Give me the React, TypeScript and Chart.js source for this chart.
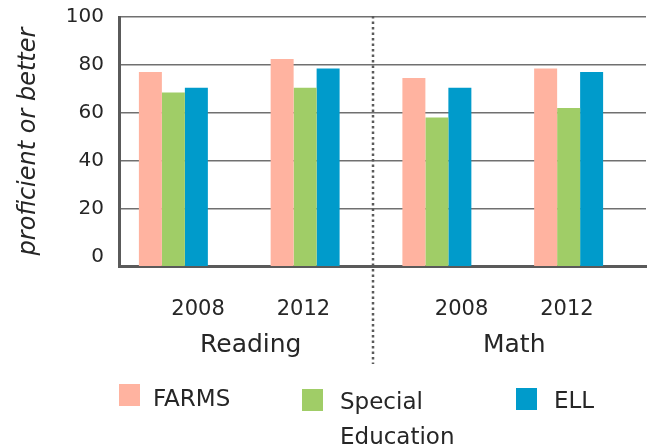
import React, { useEffect, useRef } from "react";
import { Chart, registerables } from "chart.js";

Chart.register(...registerables);

const categories = ["Reading 2008", "Reading 2012", "Math 2008", "Math 2012"];
const farms = [77, 82.5, 74.5, 78.5];
const specialEducation = [68.5, 70.5, 58, 62];
const ell = [70.5, 78.5, 70.5, 77];
const emptySeries = [null, null, null, null];
const yearLabels = ["", "2008", "", "2012", "", "", "2008", "", "2012", ""];
const subjectLabels = ["Reading", "Math"];
const yTicks = [0, 20, 40, 60, 80, 100];
const seriesNames = ["FARMS", "Special Education", "ELL"];
const seriesColors = ["#FFB3A0", "#A0CD67", "#009BCB"];
const yAxisTitle = "proficient or better";

const FONT = "'DejaVu Sans', sans-serif";
const TEXT = "#262626";
const AXIS = "#5a5a5a";

const dividerPlugin = {
  id: "divider",
  afterDraw(chart: any) {
    const a = chart.getDatasetMeta(2).data[1];
    const b = chart.getDatasetMeta(0).data[2];
    if (!a || !b) return;
    const x = ((a.x + a.width / 2) + (b.x - b.width / 2)) / 2 + 2;
    const top = chart.chartArea.top - 1;
    const bottom = chart.scales.x3.bottom + 2;
    const ctx = chart.ctx;
    ctx.save();
    ctx.strokeStyle = AXIS;
    ctx.lineWidth = 2.5;
    ctx.setLineDash([2.5, 3]);
    ctx.beginPath();
    ctx.moveTo(x, top);
    ctx.lineTo(x, bottom);
    ctx.stroke();
    ctx.restore();
  },
};

function App() {
  const ref = useRef<HTMLCanvasElement | null>(null);

  useEffect(() => {
    if (!ref.current) return;
    const base = -4;
    const chart = new Chart(ref.current, {
      type: "bar",
      data: {
        labels: categories,
        datasets: [
          { label: seriesNames[0], data: farms, backgroundColor: seriesColors[0], base },
          { label: seriesNames[1], data: specialEducation, backgroundColor: seriesColors[1], base },
          { label: seriesNames[2], data: ell, backgroundColor: seriesColors[2], base },
          { label: "", data: emptySeries, backgroundColor: "transparent", base },
        ],
      },
      options: {
        animation: false,
        responsive: false,
        maintainAspectRatio: false,
        events: [],
        layout: { autoPadding: false, padding: { left: 0, right: 9, top: 17, bottom: 86 } },
        datasets: { bar: { categoryPercentage: 0.698, barPercentage: 1 } },
        plugins: { legend: { display: false }, tooltip: { enabled: false } },
        scales: {
          x: {
            type: "category",
            position: "bottom",
            weight: 0,
            offset: true,
            ticks: { display: false },
            grid: { display: false },
            border: { display: true, color: AXIS, width: 3 },
            afterFit: (s: any) => { s.height = 0; s.paddingLeft = 0; s.paddingRight = 0; },
          },
          x2: {
            type: "category",
            position: "bottom",
            weight: 1,
            offset: true,
            labels: yearLabels,
            grid: { display: false },
            border: { display: false },
            ticks: {
              autoSkip: false,
              maxRotation: 0,
              padding: 23,
              color: TEXT,
              font: { family: FONT, size: 21 },
            },
            afterFit: (s: any) => { s.height = 56; s.paddingLeft = 0; s.paddingRight = 0; },
          },
          x3: {
            type: "category",
            position: "bottom",
            weight: 2,
            offset: true,
            labels: subjectLabels,
            grid: { display: false },
            border: { display: false },
            ticks: {
              autoSkip: false,
              maxRotation: 0,
              padding: 0,
              color: TEXT,
              font: { family: FONT, size: 25 },
            },
            afterFit: (s: any) => { s.height = 40; s.paddingLeft = 0; s.paddingRight = 0; },
          },
          y: {
            type: "linear",
            min: base,
            max: 100,
            ticks: {
              stepSize: 20,
              padding: 15,
              color: TEXT,
              font: { family: FONT, size: 20 },
            },
            afterBuildTicks: (s: any) => {
              s.ticks = yTicks.map((v) => ({ value: v }));
            },
            grid: {
              drawTicks: false,
              color: (c: any) => (c.tick && c.tick.value === 0 ? "rgba(0,0,0,0)" : "#707070"),
              lineWidth: 1.5,
            },
            border: { display: true, color: AXIS, width: 3 },
            title: {
              display: true,
              text: yAxisTitle,
              color: TEXT,
              padding: { top: 14, bottom: 0 },
              font: { family: FONT, size: 24, style: "italic" },
            },
            afterFit: (s: any) => { s.width = 119; s.paddingTop = 0; s.paddingBottom = 0; },
          },
        },
      },
      plugins: [dividerPlugin],
    } as any);
    return () => chart.destroy();
  }, []);

  const textStyle: React.CSSProperties = {
    position: "absolute",
    fontFamily: FONT,
    fontSize: 23,
    lineHeight: "35px",
    color: TEXT,
    whiteSpace: "nowrap",
  };
  const sw = (left: number, top: number, color: string): React.CSSProperties => ({
    position: "absolute",
    left,
    top,
    width: 21,
    height: 22,
    background: color,
  });

  return (
    <div style={{ position: "fixed", left: 0, top: 0, width: 655, height: 448, background: "#fff", overflow: "hidden" }}>
      <canvas ref={ref} width={655} height={448} style={{ position: "absolute", left: 0, top: 0, width: 655, height: 448 }} />
      <div style={sw(119, 384, seriesColors[0])} />
      <div style={{ ...textStyle, left: 153, top: 381 }}>{seriesNames[0]}</div>
      <div style={sw(302, 389, seriesColors[1])} />
      <div style={{ ...textStyle, left: 340, top: 384 }}>
        {seriesNames[1].split(" ")[0]}
        <br />
        {seriesNames[1].split(" ")[1]}
      </div>
      <div style={sw(516, 388, seriesColors[2])} />
      <div style={{ ...textStyle, left: 554, top: 383 }}>{seriesNames[2]}</div>
    </div>
  );
}

export default App;
